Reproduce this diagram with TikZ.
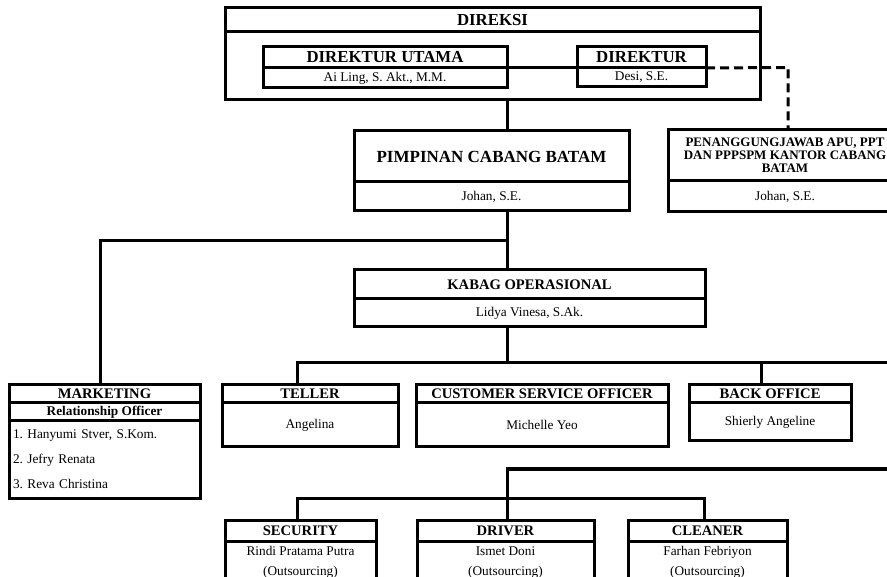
\documentclass[tikz,border=0pt]{standalone}
\usepackage{fontspec}
\setmainfont{Liberation Serif}
\begin{document}
\frenchspacing
\begin{tikzpicture}[x=1pt,y=-1pt,
  box/.style={draw, line width=3pt, rectangle, inner sep=0pt, outer sep=0pt, anchor=north west},
  hbig/.style={font=\fontsize{16.8}{19}\selectfont\bfseries},
  hpim/.style={font=\fontsize{17}{19}\selectfont\bfseries},
  hd/.style={font=\fontsize{14.6}{17}\selectfont\bfseries},
  hsm/.style={font=\fontsize{13.3}{15}\selectfont\bfseries},
  hpj/.style={font=\fontsize{13}{12.8}\selectfont\bfseries, align=center},
  reg/.style={font=\fontsize{13.3}{15}\selectfont},
  reg2/.style={font=\fontsize{13.3}{20}\selectfont, align=center},
  conn/.style={line width=3pt},
  dashln/.style={line width=3pt, dash pattern=on 9pt off 5pt}]
\useasboundingbox (0,0) rectangle (887,577);
\clip (0,0) rectangle (887,577);
% DIREKSI
\node[box, hbig, minimum width=535, minimum height=24] (dirh) at (225,8) {DIREKSI};
\node[box, minimum width=535, minimum height=68] (dirb) at (225,32) {};
\node[box, hbig, minimum width=244, minimum height=21] (duh) at (263,47) {DIREKTUR UTAMA};
\node[box, reg, minimum width=244, minimum height=20] (dub) at (263,68) {Ai Ling, S. Akt., M.M.};
\node[box, hbig, minimum width=129, minimum height=21] (dh) at (577,47) {DIREKTUR};
\node[box, reg, minimum width=129, minimum height=19] (db) at (577,68) {Desi, S.E.};
% PIMPINAN
\node[box, hpim, minimum width=275, minimum height=51] (pch) at (354,131) {PIMPINAN CABANG BATAM};
\node[box, reg, minimum width=275, minimum height=29] (pcb) at (354,182) {Johan, S.E.};
% PENANGGUNGJAWAB
\node[box, hpj, minimum width=234, minimum height=51] (pjh) at (668,130) {PENANGGUNGJAWAB APU, PPT\\DAN PPPSPM KANTOR CABANG\\BATAM};
\node[box, reg, minimum width=234, minimum height=31] (pjb) at (668,181) {Johan, S.E.};
% KABAG
\node[box, hd, minimum width=351, minimum height=29] (kbh) at (354,270) {KABAG OPERASIONAL};
\node[box, reg, minimum width=351, minimum height=28] (kbb) at (354,299) {Lidya Vinesa, S.Ak.};
% MARKETING
\node[box, hd, minimum width=191, minimum height=18] (mkh) at (9,385) {MARKETING};
\node[box, hsm, minimum width=191, minimum height=18] (mks) at (9,403) {Relationship Officer};
\node[box, font=\fontsize{13.3}{25}\selectfont, align=left, text width=183pt, inner xsep=4pt, minimum height=77] (mkb) at (9,421) {1. Hanyumi Stver, S.Kom.\\2. Jefry Renata\\3. Reva Christina};
% TELLER, CSO, BACK OFFICE
\node[box, hd, minimum width=176, minimum height=18] (tlh) at (222,385) {TELLER};
\node[box, reg, minimum width=176, minimum height=44] (tlb) at (222,403) {Angelina};
\node[box, hd, minimum width=252, minimum height=18] (csh) at (416,385) {CUSTOMER SERVICE OFFICER};
\node[box, reg, minimum width=252, minimum height=44] (csb) at (416,403) {Michelle Yeo};
\node[box, hd, minimum width=162, minimum height=18] (boh) at (689,385) {BACK OFFICE};
\node[box, reg, minimum width=162, minimum height=38] (bob) at (689,403) {Shierly Angeline};
% SECURITY, DRIVER, CLEANER
\node[box, hd, minimum width=151, minimum height=21] (sch) at (225,520) {SECURITY};
\node[box, reg2, minimum width=151, minimum height=43] (scb) at (225,541) {Rindi Pratama Putra\\(Outsourcing)};
\node[box, hd, minimum width=177, minimum height=21] (drh) at (417,520) {DRIVER};
\node[box, reg2, minimum width=177, minimum height=43] (drb) at (417,541) {Ismet Doni\\(Outsourcing)};
\node[box, hd, minimum width=159, minimum height=21] (clh) at (628,520) {CLEANER};
\node[box, reg2, minimum width=159, minimum height=43] (clb) at (628,541) {Farhan Febriyon\\(Outsourcing)};
% connectors
\coordinate (spine) at (507.5,0);
\coordinate (dc) at (788,67.5);
\coordinate (j1) at (507.5,241);
\coordinate (mkx) at (100,0);
\coordinate (h2) at (297,363);
\coordinate (h2r) at (900,363);
\coordinate (bx) at (761,0);
\coordinate (h3r) at (900,469);
\coordinate (h4l) at (297,498);
\coordinate (h4r) at (704,498);
\draw[conn] (dirb.south -| spine) -- (pch.north -| spine);
\draw[conn] (dub.north east) -- (db.north west);
\draw[dashln] (db.north east) -- (dc) -- (dc |- pjh.north);
\draw[conn] (pcb.south -| spine) -- (kbh.north -| spine);
\draw[conn] (j1) -| (mkh.north -| mkx);
\draw[conn] (kbb.south -| spine) -- (spine |- h2);
\draw[conn] (tlh.north -| h2) -- (h2) -- (h2r);
\draw[conn] (boh.north -| bx) -- (bx |- h2);
\draw[conn] (h3r) -- (spine |- h3r) -- (drh.north -| spine);
\draw[conn] (sch.north -| h4l) -- (h4l) -- (h4r) -- (clh.north -| h4r);
\end{tikzpicture}
\end{document}
